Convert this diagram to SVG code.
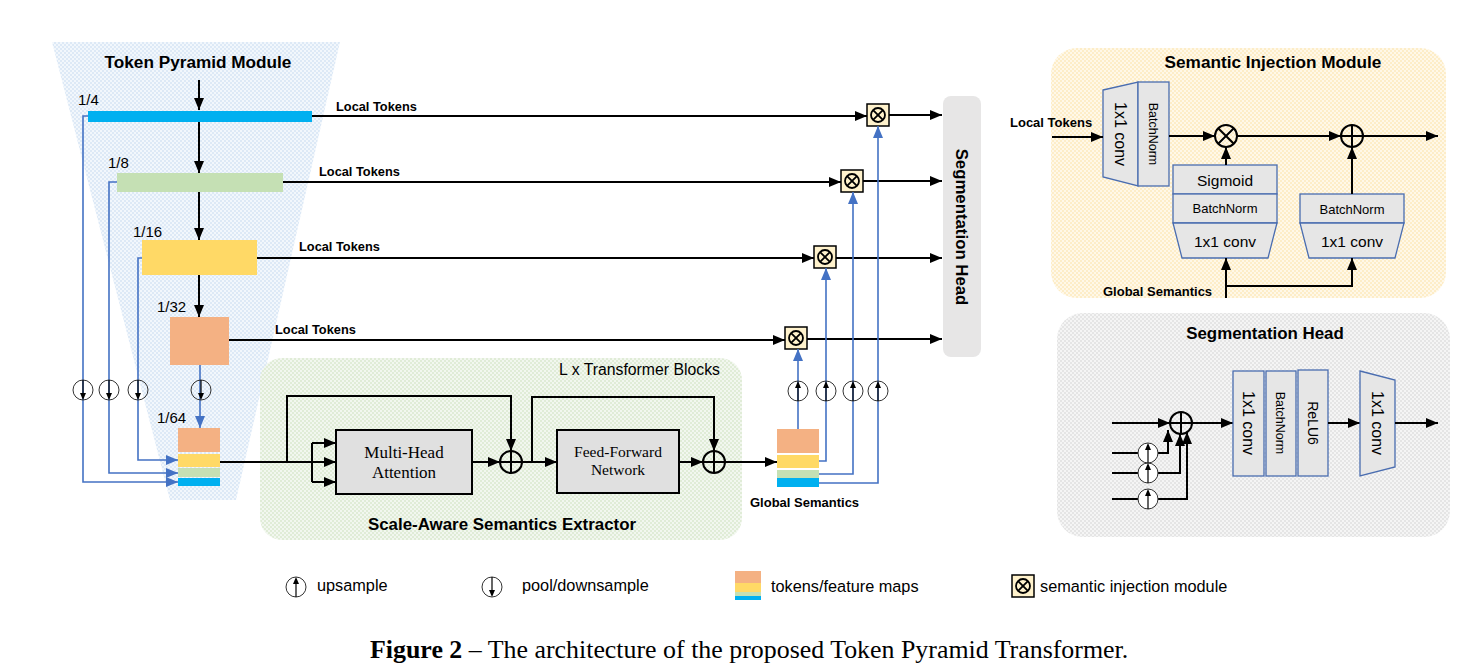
<svg xmlns="http://www.w3.org/2000/svg" xmlns:xlink="http://www.w3.org/1999/xlink" width="1467" height="665" viewBox="0 0 1467 665">
<style>
.sans{font-family:"Liberation Sans",Arial,sans-serif;fill:#000}
.b{font-weight:bold}
.serif{font-family:"Liberation Serif","Times New Roman",serif;fill:#000}
.ln{fill:none;stroke:#000;stroke-width:2}
.bl{fill:none;stroke:#4472c4;stroke-width:1.6}
.blk{fill:#e6e6e6;stroke:#4a6db0;stroke-width:1.3}
.gbox{fill:#e0e0e0;stroke:#000;stroke-width:2}
.title{font-size:17.2px}
.leg{font-size:16.3px}
</style>
<defs>
<marker id="ah" viewBox="0 0 12 10" refX="12" refY="5" markerWidth="12" markerHeight="10" markerUnits="userSpaceOnUse" orient="auto"><path d="M0,0 L12,5 L0,10 z" fill="#000"/></marker>
<marker id="ahb" viewBox="0 0 12 10" refX="12" refY="5" markerWidth="12" markerHeight="10" markerUnits="userSpaceOnUse" orient="auto"><path d="M0,0 L12,5 L0,10 z" fill="#4472c4"/></marker>
<pattern id="pBlue" width="4" height="4" patternUnits="userSpaceOnUse"><rect width="4" height="4" fill="#f2f7fc"/><rect width="2" height="2" fill="#dde9f6"/><rect x="2" y="2" width="2" height="2" fill="#dde9f6"/></pattern>
<pattern id="pGreen" width="4" height="4" patternUnits="userSpaceOnUse"><rect width="4" height="4" fill="#f2f7ef"/><rect width="2" height="2" fill="#e0ecd7"/><rect x="2" y="2" width="2" height="2" fill="#e0ecd7"/></pattern>
<pattern id="pYellow" width="4" height="4" patternUnits="userSpaceOnUse"><rect width="4" height="4" fill="#fff8e8"/><rect width="2" height="2" fill="#fdedc8"/><rect x="2" y="2" width="2" height="2" fill="#fdedc8"/></pattern>
<pattern id="pGray" width="4" height="4" patternUnits="userSpaceOnUse"><rect width="4" height="4" fill="#f5f5f5"/><rect width="2" height="2" fill="#e5e5e5"/><rect x="2" y="2" width="2" height="2" fill="#e5e5e5"/></pattern>
<g id="simbox"><rect x="-11" y="-11" width="22" height="22" fill="#fff2cc" stroke="#000" stroke-width="1.5"/><circle r="7" fill="none" stroke="#000" stroke-width="1.8"/><path d="M-4.9,-4.9 L4.9,4.9 M-4.9,4.9 L4.9,-4.9" stroke="#000" stroke-width="1.8"/></g>
<g id="up"><circle r="10" fill="none" stroke="#333" stroke-width="1"/><path d="M0,10 V-4" stroke="#000" stroke-width="1.2"/><path d="M0,-10 L-3,-3 L3,-3 z" fill="#000"/></g>
<g id="down"><circle r="10" fill="none" stroke="#333" stroke-width="1"/><path d="M0,-10 V4" stroke="#000" stroke-width="1.2"/><path d="M0,10 L-3,3 L3,3 z" fill="#000"/></g>
<g id="plus"><circle r="11" fill="none" stroke="#000" stroke-width="2"/><path d="M-11,0 H11 M0,-11 V11" stroke="#000" stroke-width="2"/></g>
<g id="times"><circle r="11" fill="none" stroke="#000" stroke-width="2"/><path d="M-7.8,-7.8 L7.8,7.8 M-7.8,7.8 L7.8,-7.8" stroke="#000" stroke-width="2"/></g>
</defs>

<rect width="1467" height="665" fill="#fff"/>

<!-- background panels -->
<g id="bg">
<polygon points="52,42 340,42 236,500 170,500" fill="url(#pBlue)"/>
<rect x="260" y="358" width="482" height="182" rx="22" fill="url(#pGreen)"/>
<rect x="1051" y="48" width="395" height="250" rx="26" fill="url(#pYellow)"/>
<rect x="1057" y="313" width="393" height="224" rx="26" fill="url(#pGray)"/>
</g>

<!-- Token pyramid -->
<g id="token-pyramid">
<text class="sans b title" x="198" y="68" text-anchor="middle">Token Pyramid Module</text>
<text class="sans" x="78" y="105" font-size="15">1/4</text>
<text class="sans" x="108" y="168" font-size="15">1/8</text>
<text class="sans" x="133" y="237" font-size="15">1/16</text>
<text class="sans" x="157" y="312" font-size="15">1/32</text>
<text class="sans" x="157" y="423" font-size="15">1/64</text>
<rect id="t4" x="88" y="111" width="224" height="11" fill="#00b0f0"/>
<rect id="t8" x="117" y="173" width="166" height="19" fill="#c5e0b4"/>
<rect id="t16" x="142" y="240" width="115" height="35" fill="#ffd966"/>
<rect id="t32" x="170" y="317" width="59" height="48" fill="#f4b183"/>
</g>
<g id="stack64">
<rect x="178" y="428" width="42" height="24" fill="#f4b183"/>
<rect x="178" y="454" width="42" height="13" fill="#ffd966"/>
<rect x="178" y="468" width="42" height="9" fill="#c5e0b4"/>
<rect x="178" y="478" width="42" height="8" fill="#00b0f0"/>
</g>

<!-- SASE blocks -->
<g id="sase">
<text class="sans" x="720" y="375" font-size="15.8" text-anchor="end">L x Transformer Blocks</text>
<text class="sans b" x="502" y="530" font-size="16.9" text-anchor="middle">Scale-Aware Semantics Extractor</text>
</g>
<g id="mha"><rect class="gbox" x="336" y="430" width="136" height="64"/>
<text class="serif" x="404" y="458" font-size="17" text-anchor="middle">Multi-Head</text>
<text class="serif" x="404" y="478" font-size="17" text-anchor="middle">Attention</text></g>
<g id="ffn"><rect class="gbox" x="557" y="430" width="122" height="63"/>
<text class="serif" x="618" y="457" font-size="15.5" text-anchor="middle">Feed-Forward</text>
<text class="serif" x="618" y="475" font-size="15.5" text-anchor="middle">Network</text></g>
<g id="add1"><use xlink:href="#plus" x="511" y="462"/></g>
<g id="add2"><use xlink:href="#plus" x="714" y="462"/></g>

<!-- Global semantics stack -->
<g id="global-semantics">
<rect x="777" y="429" width="42" height="24" fill="#f4b183"/>
<rect x="777" y="455" width="42" height="13" fill="#ffd966"/>
<rect x="777" y="470" width="42" height="8" fill="#c5e0b4"/>
<rect x="777" y="478" width="42" height="9" fill="#00b0f0"/>
<text class="sans b" x="750" y="507" font-size="13">Global Semantics</text>
</g>

<!-- injection boxes -->
<g id="sim1"><use xlink:href="#simbox" x="878" y="115"/></g>
<g id="sim2"><use xlink:href="#simbox" x="852" y="181"/></g>
<g id="sim3"><use xlink:href="#simbox" x="825" y="257"/></g>
<g id="sim4"><use xlink:href="#simbox" x="796" y="338"/></g>

<!-- Segmentation head bar -->
<g id="seg-head-bar">
<rect x="943" y="96" width="38" height="261" rx="8" fill="#e7e6e6"/>
<text class="sans b" transform="translate(956,227) rotate(90)" font-size="16.8" text-anchor="middle">Segmentation Head</text>
</g>

<!-- connectors -->
<g id="connectors">
<path class="ln" d="M199,80 V110" marker-end="url(#ah)"/>
<path class="ln" d="M199,122 V173" marker-end="url(#ah)"/>
<path class="ln" d="M199,192 V240" marker-end="url(#ah)"/>
<path class="ln" d="M199,275 V317" marker-end="url(#ah)"/>
<path class="bl" d="M200,365 V428" marker-end="url(#ahb)"/>
<path class="bl" d="M88,116 H83 V482 H178" marker-end="url(#ahb)"/>
<path class="bl" d="M117,182 H109 V473 H178" marker-end="url(#ahb)"/>
<path class="bl" d="M142,258 H138 V460 H178" marker-end="url(#ahb)"/>

<path class="ln" d="M312,116 H867" marker-end="url(#ah)"/>
<path class="ln" d="M283,182 H841" marker-end="url(#ah)"/>
<path class="ln" d="M257,258 H814" marker-end="url(#ah)"/>
<path class="ln" d="M229,340 H785" marker-end="url(#ah)"/>
<text class="sans b" x="336" y="111" font-size="12.8">Local Tokens</text>
<text class="sans b" x="319" y="176" font-size="12.8">Local Tokens</text>
<text class="sans b" x="299" y="251" font-size="12.8">Local Tokens</text>
<text class="sans b" x="275" y="334" font-size="12.8">Local Tokens</text>

<path class="ln" d="M889,115 H942" marker-end="url(#ah)"/>
<path class="ln" d="M863,181 H942" marker-end="url(#ah)"/>
<path class="ln" d="M836,258 H942" marker-end="url(#ah)"/>
<path class="ln" d="M807,339 H942" marker-end="url(#ah)"/>

<path class="ln" d="M220,462 H336" marker-end="url(#ah)"/>
<path class="ln" d="M312,443 V482"/>
<path class="ln" d="M312,443 H336" marker-end="url(#ah)"/>
<path class="ln" d="M312,482 H336" marker-end="url(#ah)"/>
<path class="ln" d="M287,462 V396 H511 V451" marker-end="url(#ah)"/>
<path class="ln" d="M472,462 H500" marker-end="url(#ah)"/>
<path class="ln" d="M522,462 H557" marker-end="url(#ah)"/>
<path class="ln" d="M532,462 V397 H714 V451" marker-end="url(#ah)"/>
<path class="ln" d="M679,462 H703" marker-end="url(#ah)"/>
<path class="ln" d="M725,462 H777" marker-end="url(#ah)"/>

<path class="bl" d="M798,429 V349" marker-end="url(#ahb)"/>
<path class="bl" d="M819,461 H826 V268" marker-end="url(#ahb)"/>
<path class="bl" d="M819,474 H853 V192" marker-end="url(#ahb)"/>
<path class="bl" d="M819,483 H878 V126" marker-end="url(#ahb)"/>
</g>
<g id="samplers">
<use xlink:href="#down" x="83" y="390"/>
<use xlink:href="#down" x="109" y="390"/>
<use xlink:href="#down" x="138" y="390"/>
<use xlink:href="#down" x="201" y="390"/>
<use xlink:href="#up" x="798" y="391"/>
<use xlink:href="#up" x="826" y="391"/>
<use xlink:href="#up" x="853" y="391"/>
<use xlink:href="#up" x="878" y="391"/>
</g>

<!-- Semantic Injection Module detail -->
<g id="sim-detail">
<text class="sans b title" x="1273" y="68" text-anchor="middle">Semantic Injection Module</text>
<text class="sans b" x="1010" y="127" font-size="13">Local Tokens</text>
<g id="sim-conv-bn">
<polygon class="blk" points="1103,90 1138,82 1138,186 1103,177"/>
<rect class="blk" x="1138" y="82" width="31" height="104"/>
<text class="sans" transform="translate(1115,134) rotate(90)" font-size="16" text-anchor="middle">1x1 conv</text>
<text class="sans" transform="translate(1149,134) rotate(90)" font-size="12.5" text-anchor="middle">BatchNorm</text>
</g>
<g id="sim-gate">
<rect class="blk" x="1173" y="165" width="104" height="29"/>
<rect class="blk" x="1173" y="194" width="104" height="29"/>
<polygon class="blk" points="1173,223 1277,223 1268,258 1182,258"/>
<text class="sans" x="1225" y="186" font-size="15.5" text-anchor="middle">Sigmoid</text>
<text class="sans" x="1225" y="213" font-size="13" text-anchor="middle">BatchNorm</text>
<text class="sans" x="1225" y="247" font-size="15.5" text-anchor="middle">1x1 conv</text>
</g>
<g id="sim-embed">
<rect class="blk" x="1300" y="194" width="104" height="29"/>
<polygon class="blk" points="1300,223 1404,223 1395,258 1309,258"/>
<text class="sans" x="1352" y="214" font-size="13" text-anchor="middle">BatchNorm</text>
<text class="sans" x="1352" y="247" font-size="15.5" text-anchor="middle">1x1 conv</text>
</g>
<use xlink:href="#times" x="1226" y="136"/>
<use xlink:href="#plus" x="1352" y="136"/>
<text class="sans b" x="1103" y="296" font-size="13">Global Semantics</text>
<path class="ln" d="M1052,137 H1103" marker-end="url(#ah)"/>
<path class="ln" d="M1169,136 H1215" marker-end="url(#ah)"/>
<path class="ln" d="M1237,136 H1341" marker-end="url(#ah)"/>
<path class="ln" d="M1363,136 H1438" marker-end="url(#ah)"/>
<path class="ln" d="M1226,165 V147" marker-end="url(#ah)"/>
<path class="ln" d="M1352,194 V147" marker-end="url(#ah)"/>
<path class="ln" d="M1226,298 V258" marker-end="url(#ah)"/>
<path class="ln" d="M1226,286 H1352 V258" marker-end="url(#ah)"/>
</g>

<!-- Segmentation Head detail -->
<g id="seg-detail">
<text class="sans b" x="1265" y="339" font-size="16.9" text-anchor="middle">Segmentation Head</text>
<use xlink:href="#plus" x="1181" y="423"/>
<path class="ln" d="M1112,423 H1170" marker-end="url(#ah)"/>
<path class="ln" d="M1112,453 H1168 V430" marker-end="url(#ah)"/>
<path class="ln" d="M1112,473 H1180 V434" marker-end="url(#ah)"/>
<path class="ln" d="M1112,499 H1187 V432" marker-end="url(#ah)"/>
<circle cx="1148" cy="453" r="10" fill="#fff"/><circle cx="1148" cy="473" r="10" fill="#fff"/><circle cx="1148" cy="499" r="10" fill="#fff"/>
<use xlink:href="#up" x="1148" y="453"/>
<use xlink:href="#up" x="1148" y="473"/>
<use xlink:href="#up" x="1148" y="499"/>
<path class="ln" d="M1192,423 H1233" marker-end="url(#ah)"/>
<rect class="blk" x="1233" y="371" width="31" height="105"/>
<rect class="blk" x="1266" y="371" width="30" height="105"/>
<rect class="blk" x="1298" y="370" width="30" height="106"/>
<text class="sans" transform="translate(1243,423) rotate(90)" font-size="16" text-anchor="middle">1x1 conv</text>
<text class="sans" transform="translate(1276,423) rotate(90)" font-size="12.5" text-anchor="middle">BatchNorm</text>
<text class="sans" transform="translate(1308,423) rotate(90)" font-size="14" text-anchor="middle">ReLU6</text>
<path class="ln" d="M1328,423 H1360" marker-end="url(#ah)"/>
<polygon class="blk" points="1360,371 1395,380 1395,467 1360,476"/>
<text class="sans" transform="translate(1372,423) rotate(90)" font-size="16" text-anchor="middle">1x1 conv</text>
<path class="ln" d="M1395,423 H1438" marker-end="url(#ah)"/>
</g>

<!-- Legend -->
<g id="legend">
<use xlink:href="#up" x="296" y="587"/>
<text class="sans leg" x="317" y="591">upsample</text>
<use xlink:href="#down" x="492" y="587"/>
<text class="sans leg" x="522" y="591">pool/downsample</text>
<rect x="735" y="571" width="26" height="12" fill="#f4b183"/>
<rect x="735" y="583" width="26" height="9" fill="#ffd966"/>
<rect x="735" y="592" width="26" height="4" fill="#c5e0b4"/>
<rect x="735" y="596" width="26" height="4" fill="#00b0f0"/>
<text class="sans leg" x="771" y="592">tokens/feature maps</text>
<use xlink:href="#simbox" x="1023" y="586"/>
<text class="sans leg" x="1040" y="592">semantic injection module</text>
</g>

<text class="serif" x="370" y="658" font-size="25.9"><tspan font-weight="bold">Figure 2</tspan> – The architecture of the proposed Token Pyramid Transformer.</text>
</svg>
